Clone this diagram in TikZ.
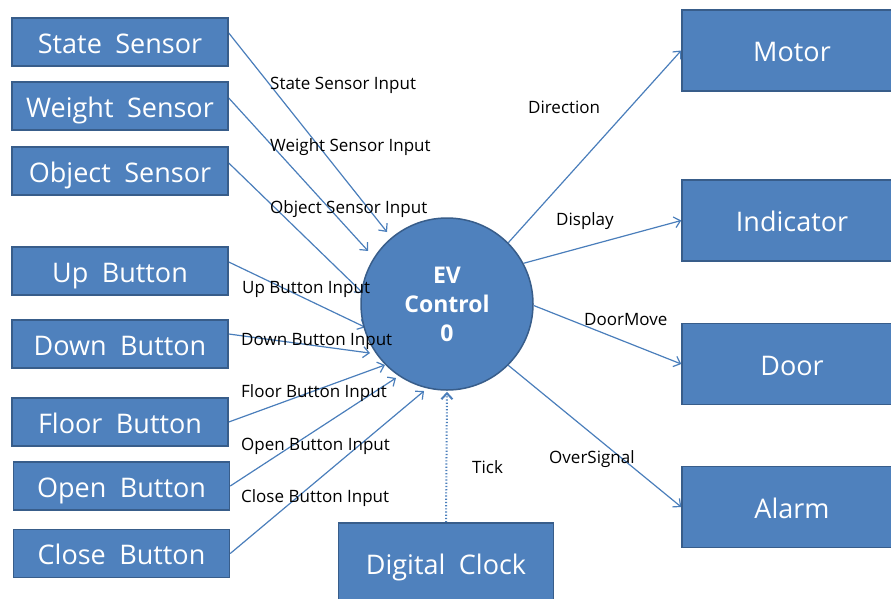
\documentclass[tikz,border=0pt]{standalone}
\usepackage{fontspec}
\setmainfont{Open Sans}
\usetikzlibrary{arrows.meta,calc}
\definecolor{boxfill}{HTML}{4F81BD}
\definecolor{boxedge}{HTML}{385D8A}
\definecolor{flow}{HTML}{4A7EBB}
\pgfdeclarelayer{background}
\pgfsetlayers{background,main}
\newcommand\wgap{\hspace{0.5em}}
\begin{document}
\begin{tikzpicture}[x=1pt,y=-1pt,
  entity/.style={draw=boxedge, line width=1.5pt, fill=boxfill, text=white,
    font=\fontsize{27}{31}\selectfont, minimum width=216pt, minimum height=48pt, inner sep=0pt,
    text height=24pt, text depth=2pt},
  sink/.style={entity, minimum width=220pt, minimum height=81pt},
  process/.style={circle, draw=boxedge, line width=1.5pt, fill=boxfill, text=white,
    font=\bfseries\fontsize{23}{29}\selectfont, minimum size=172pt, inner sep=0pt, align=center},
  flowline/.style={draw=flow, line width=1.2pt, -{Straight Barb[length=6pt,width=11pt]}},
  lbl/.style={anchor=west, font=\fontsize{17}{20}\selectfont, inner sep=0pt}
]
\useasboundingbox (0,0) rectangle (891,598);
\clip (0,0) rectangle (891,598);

% sources on the left
\node[entity] (ss)  at (120,42)    {State\wgap Sensor};
\node[entity] (ws)  at (120,106)   {Weight\wgap Sensor};
\node[entity] (os)  at (120,171)   {Object\wgap Sensor};
\node[entity] (ub)  at (120,271)   {Up\wgap Button};
\node[entity] (db)  at (120,344)   {Down\wgap Button};
\node[entity] (fb)  at (120,422)   {Floor\wgap Button};
\node[entity] (ob)  at (121.5,486) {Open\wgap Button};
\node[entity] (cb)  at (121.5,553.5) {Close\wgap Button};

% central process
\node[process] (ctl) at (447,304) {EV\\Control\\0};

% sinks on the right
\node[sink] (mo) at (792,50.5)  {Motor};
\node[sink] (in) at (792,220.5) {Indicator};
\node[sink] (dr) at (792,364)   {Door};
\node[sink] (al) at (792,507)   {Alarm};

% clock below
\node[sink, minimum width=215pt] (clk) at (446,563.5) {Digital\wgap Clock};

% data flows
\begin{pgfonlayer}{background}
\draw[flowline] ($(ss.east)+(0,9pt)$)  -- ($(ctl.center)+(129.8:93.7pt)$);
\draw[flowline] ($(ws.east)+(0,8pt)$)  -- ($(ctl.center)+(146.1:95.1pt)$);
\draw[flowline] ($(os.east)+(0,8pt)$)  -- ($(ctl.center)+(172.5:85pt)$);
\draw[flowline] ($(ub.east)+(0,9pt)$)  -- ($(ctl.center)+(195.9:85pt)$);
\draw[flowline] ($(db.east)+(0,10pt)$) -- ($(ctl.center)+(212.5:91.3pt)$);
\draw[flowline] (fb.east) -- ($(ctl.center)+(224.5:87pt)$);
\draw[flowline] (ob.east) -- ($(ctl.center)+(235.4:89.9pt)$);
\draw[flowline] (cb.east) -- ($(ctl.center)+(255.2:90pt)$);

\draw[flowline] (ctl.45)  -- (mo.west);
\draw[flowline] (ctl.28)  -- (in.west);
\draw[flowline] (ctl.-1)  -- (dr.west);
\draw[flowline] (ctl.-45) -- (al.west);

\draw[flowline, dotted, line width=2pt, shorten >=1pt] (clk.north) -- (ctl.south);
\end{pgfonlayer}

% flow labels
\node[lbl] (l1) at (270,85)  {State Sensor Input};
\node[lbl] (l2) at (270,147) {Weight Sensor Input};
\node[lbl] (l3) at (270,209) {Object Sensor Input};
\node[lbl] (l4) at (242,289) {Up Button Input};
\node[lbl] (l5) at (241,341) {Down Button Input};
\node[lbl] (l6) at (241,393) {Floor Button Input};
\node[lbl] (l7) at (241,446) {Open Button Input};
\node[lbl] (l8) at (241,498) {Close Button Input};
\node[lbl] (l9)  at (528,107) {Direction};
\node[lbl] (l10) at (556,221) {Display};
\node[lbl] (l11) at (584,320) {DoorMove};
\node[lbl] (l12) at (549,459) {OverSignal};
\node[lbl] (l13) at (472,467) {Tick};
\end{tikzpicture}
\end{document}
